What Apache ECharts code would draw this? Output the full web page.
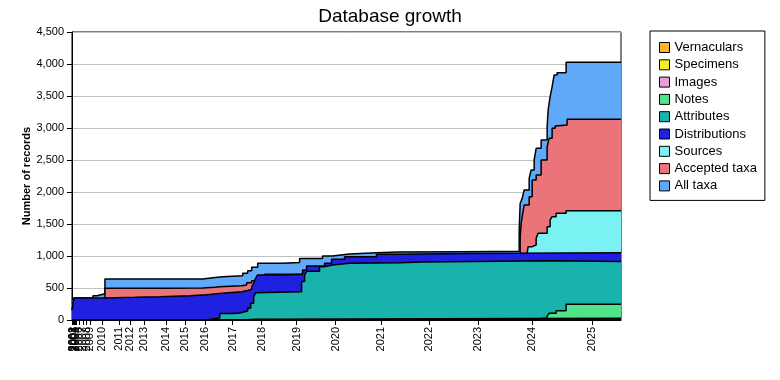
<!DOCTYPE html>
<html><head><meta charset="utf-8">
<script src="https://cdn.jsdelivr.net/npm/echarts@6/dist/echarts.min.js"></script>
<style>html,body{margin:0;padding:0;background:#fff}#c{width:780px;height:380px}</style>
</head><body><div id="c"></div>
<script>
// x values are record-event indices (0..1100); tick labels mark the first event of each year
const yearTickIdx = [0,1,2,4,6,8,14,22,29,36,61,94,116,144,189,226,267,322,380,450,528,620,716,814,922,1042];
const yearLabels = ['2000','2001','2002','2003','2004','2005','2006','2007','2008','2009','2010','2011','2012','2013','2014','2015','2016','2017','2018','2019','2020','2021','2022','2023','2024','2025'];
const lastIdx = 1100;

const allTaxa = [[0,310],[4,345],[42,380],[50,410],[66,640],[262,660],[282,675],[302,690],[342,730],[352,770],[360,823],[372,885],[422,900],[456,960],[502,1000],[522,1030],[556,1050],[610,1062],[656,1068],[786,1075],[896,1406],[898,1823],[902,1900],[906,2031],[916,2214],[920,2344],[926,2500],[930,2682],[940,2812],[952,3020],[954,3281],[958,3490],[962,3646],[966,3828],[972,3865],[990,4026],[1100,4026]];
const acceptedTaxa = [[0,260],[4,300],[66,495],[180,500],[262,510],[286,520],[296,536],[340,547],[350,583],[360,615],[366,640],[370,660],[386,715],[422,700],[898,1300],[900,1510],[902,1615],[906,1797],[916,1927],[922,2188],[930,2266],[940,2500],[952,2708],[956,2839],[962,2995],[968,3031],[972,3047],[992,3135],[1100,3135]];
const sources = [[0,150],[4,260],[66,300],[372,600],[470,800],[520,900],[656,1000],[912,1052],[914,1146],[922,1172],[930,1276],[934,1354],[952,1458],[958,1563],[962,1615],[970,1667],[990,1708],[1100,1708]];
const distributions = [[0,156],[4,344],[66,355],[126,365],[176,380],[236,395],[270,417],[300,440],[340,460],[352,480],[360,520],[364,573],[368,651],[372,703],[422,714],[462,781],[470,844],[506,885],[520,948],[546,990],[610,1026],[656,1040],[786,1052],[1100,1052]];
const attributes = [[0,0],[266,30],[296,100],[322,110],[336,140],[352,182],[358,260],[364,365],[368,427],[372,440],[460,600],[466,700],[470,760],[496,833],[506,860],[522,885],[556,895],[656,905],[702,925],[960,915],[1100,915]];
const notes = [[0,0],[910,30],[952,62],[956,104],[970,145],[990,245],[1100,245]];
const images = [[0,0],[1100,0]];
const specimens = [[0,0],[340,10],[370,28],[1100,28]];
const vernaculars = [[0,0],[1100,0]];

const seriesNames = ['All taxa','Accepted taxa','Sources','Distributions','Attributes','Notes','Images','Specimens','Vernaculars'];
const seriesData = [allTaxa,acceptedTaxa,sources,distributions,attributes,notes,images,specimens,vernaculars];
const seriesColors = ['#60A8F8','#EA747A','#7AF2F4','#2020E0','#18B3AA','#50E48A','#E6A0DC','#F0F020','#FFB428'];
const legendOrder = ['Vernaculars','Specimens','Images','Notes','Attributes','Distributions','Sources','Accepted taxa','All taxa'];

const FONT = 'Liberation Sans, Arial, sans-serif';
const labelMap = {};
yearTickIdx.forEach((v,i)=>{labelMap[v]=yearLabels[i];});

const chart = echarts.init(document.getElementById('c'), null, {renderer:'canvas'});
chart.setOption({
  animation:false,
  backgroundColor:'#fff',
  title:{text:'Database growth',left:'center',top:2,textStyle:{fontFamily:FONT,fontSize:19,fontWeight:'normal',color:'#000'}},
  legend:{
    data:legendOrder, orient:'vertical', left:650, top:31,
    padding:[10,8,8,9], itemWidth:10, itemHeight:10, itemGap:4.3, itemTextGap:5,
    icon:'rect', borderColor:'#000', borderWidth:1, backgroundColor:'#fff',
    itemStyle:{borderColor:'#000',borderWidth:1},
    textStyle:{fontFamily:FONT,fontSize:13,color:'#000'}
  },
  grid:{left:72,right:159,top:32,bottom:60,show:true,borderColor:'#000',borderWidth:1,containLabel:false,outerBoundsMode:'none'},
  xAxis:{
    type:'value',min:0,max:lastIdx,
    axisLine:{show:true,lineStyle:{color:'#000',width:1}},
    axisTick:{show:true,customValues:yearTickIdx,length:5,lineStyle:{color:'#000'}},
    axisLabel:{show:true,customValues:yearTickIdx,rotate:90,margin:7,fontFamily:FONT,fontSize:11,color:'#000',
      formatter:(v)=>labelMap[v]||''},
    splitLine:{show:false}
  },
  yAxis:{
    type:'value',min:0,max:4500,interval:500,
    name:'Number of records',nameLocation:'middle',nameGap:40,nameMoveOverlap:false,
    nameTextStyle:{fontFamily:FONT,fontSize:11,fontWeight:'bold',color:'#000'},
    axisLine:{show:true,lineStyle:{color:'#000'}},
    axisTick:{show:true,length:5,lineStyle:{color:'#000'}},
    axisLabel:{margin:8,fontFamily:FONT,fontSize:11,color:'#000',formatter:(v)=>v.toLocaleString('en-US')},
    splitLine:{show:true,lineStyle:{color:'#c0c0c0',width:1}}
  },
  series: seriesNames.map((n,i)=>({
    name:n,type:'line',step:'end',data:seriesData[i],z:2+i,
    symbol:'none',showSymbol:false,
    itemStyle:{color:seriesColors[i]},
    lineStyle:{color:'#000',width:1.5},
    areaStyle:{color:seriesColors[i],opacity:1},
    emphasis:{disabled:true}
  }))
});
</script></body></html>
